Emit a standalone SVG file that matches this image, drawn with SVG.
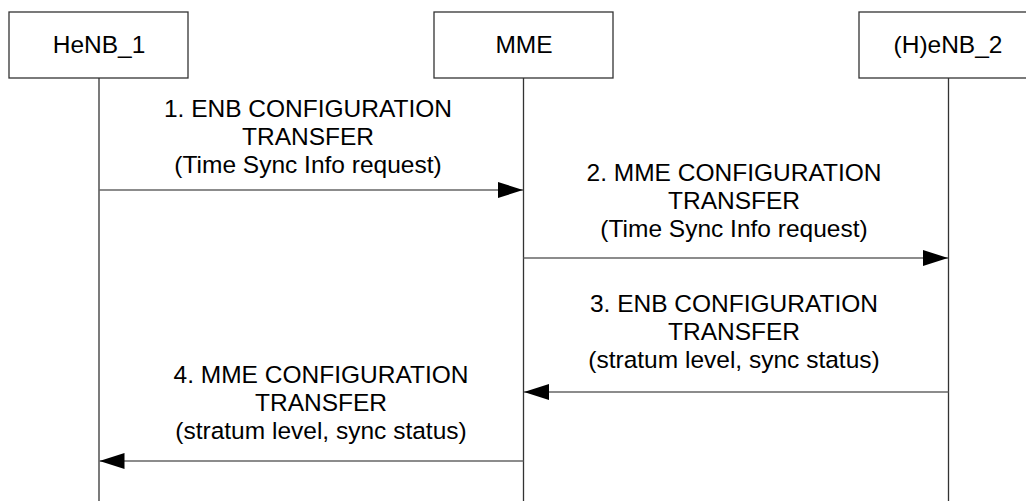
<svg xmlns="http://www.w3.org/2000/svg" width="1026" height="501" viewBox="0 0 1026 501">
<style>
.box{fill:#fff;stroke:#333;stroke-width:1.3}
.life{stroke:#333;stroke-width:1.3;fill:none}
.msg{stroke:#666;stroke-width:1.6;fill:none;marker-end:url(#ah)}
text{font-family:"Liberation Sans",Arial,sans-serif;font-size:24.5px;fill:#000;text-anchor:middle}
</style>
<defs>
<marker id="ah" markerUnits="userSpaceOnUse" markerWidth="26" markerHeight="18" viewBox="0 0 26 18" refX="25" refY="9" orient="auto">
<path d="M0,1 L25,9 L0,17 Z" fill="#000"/>
</marker>
</defs>
<rect width="1026" height="501" fill="#fff"/>
<g id="node-henb1">
<rect class="box" x="9" y="12" width="179" height="66"/>
<line class="life" x1="99" y1="78" x2="99" y2="501"/>
<text x="99" y="53">HeNB_1</text>
</g>
<g id="node-mme">
<rect class="box" x="434" y="12" width="179" height="66"/>
<line class="life" x1="523.5" y1="78" x2="523.5" y2="501"/>
<text x="524" y="53">MME</text>
</g>
<g id="node-henb2">
<rect class="box" x="859" y="12" width="179" height="66"/>
<line class="life" x1="948.5" y1="78" x2="948.5" y2="501"/>
<text x="948" y="53">(H)eNB_2</text>
</g>
<g id="connectors">
<line class="msg" x1="99" y1="190" x2="523" y2="190"/>
<line class="msg" x1="523.5" y1="258" x2="948" y2="258"/>
<line class="msg" x1="948.5" y1="392" x2="524" y2="392"/>
<line class="msg" x1="523.5" y1="461" x2="99.5" y2="461"/>
</g>
<g id="labels">
<text x="308" y="117">1. ENB CONFIGURATION</text>
<text x="308" y="145">TRANSFER</text>
<text x="308" y="173">(Time Sync Info request)</text>
<text x="734" y="181">2. MME CONFIGURATION</text>
<text x="734" y="209">TRANSFER</text>
<text x="734" y="237">(Time Sync Info request)</text>
<text x="734" y="312">3. ENB CONFIGURATION</text>
<text x="734" y="340">TRANSFER</text>
<text x="734" y="368">(stratum level, sync status)</text>
<text x="321" y="383">4. MME CONFIGURATION</text>
<text x="321" y="411">TRANSFER</text>
<text x="321" y="439">(stratum level, sync status)</text>
</g>
</svg>
